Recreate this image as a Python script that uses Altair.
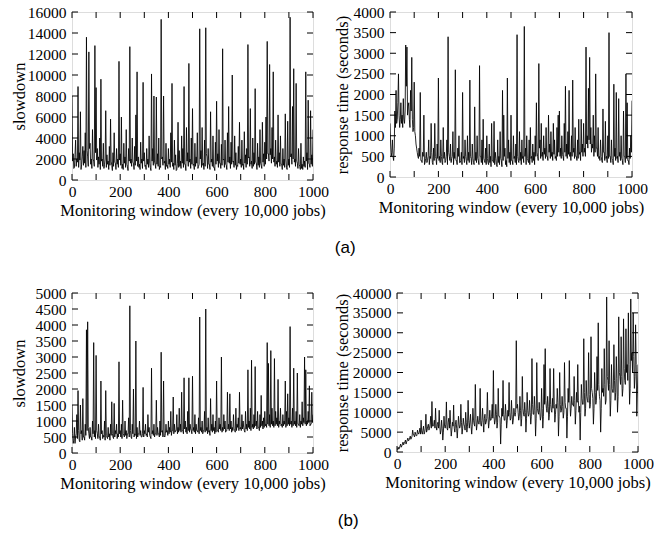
import altair as alt
import pandas as pd

# monitoring windows sampled (main samples and the samples in between)
window = list(range(0, 1001, 5))
window_mid = [2.5 + 5 * i for i in range(200)]

slowdown_a = [
    8000, 2500, 1200, 3800, 2000, 8900, 2600, 6500, 1500, 3200,
    2800, 4500, 13600, 2200, 12200, 3500, 2000, 4800, 1800, 12800,
    8800, 3000, 2200, 4000, 9600, 2000, 3500, 1500, 6600, 2400,
    1800, 3200, 5800, 1400, 2600, 4500, 1600, 3000, 2000, 11300,
    2500, 6000, 1500, 3500, 2200, 4800, 1300, 3000, 12700, 2000,
    4000, 1600, 3200, 6200, 10300, 2200, 1500, 3600, 2000, 9300,
    2600, 1400, 3000, 2000, 4200, 1200, 10100, 3000, 8000, 1500,
    7900, 2500, 4000, 1300, 15300, 2200, 8000, 1800, 3500, 1400,
    3000, 2000, 4500, 9200, 1600, 3800, 2400, 1000, 5500, 2800,
    1800, 4200, 3000, 8900, 1500, 5000, 2600, 11100, 2000, 4000,
    6800, 1500, 3500, 2200, 4500, 1300, 14400, 2800, 5000, 1600,
    3800, 14500, 2200, 3000, 1500, 6500, 2000, 4200, 1200, 3600,
    7500, 2500, 4800, 1600, 3400, 12500, 2000, 3800, 1400, 4500,
    7000, 2200, 3600, 10000, 1800, 4200, 2600, 1400, 3200, 5500,
    2000, 3800, 1500, 4600, 2400, 3000, 12900, 2200, 6800, 1800,
    4000, 2600, 8700, 1600, 3500, 2200, 4800, 1400, 5500, 2500,
    3600, 6000, 13200, 2500, 11000, 3000, 5000, 10300, 2200, 3800,
    1800, 6200, 2600, 4200, 1500, 3000, 2000, 6300, 1200, 5600,
    2000, 15500, 2500, 7000, 10600, 2000, 9200, 1600, 3000, 1300,
    3500, 1500, 2200, 1800, 10300, 2600, 7600, 1500, 6600, 2400,
    4800,
]
slowdown_a_mid = [
    1800, 1100, 2400, 1300, 1700, 1200, 1900, 1000, 2200, 1400,
    1600, 1200, 2800, 1300, 3000, 1500, 1100, 2000, 1300, 2600,
    1900, 1200, 1500, 1000, 1800, 1300, 1100, 2000, 1200, 1500,
    1000, 1400, 1800, 900, 1300, 1700, 1000, 1500, 1200, 1900,
    1400, 1100, 1000, 1600, 1200, 1500, 900, 1800, 1600, 1300,
    1700, 1000, 1400, 1800, 1300, 1200, 1000, 1600, 1100, 1800,
    1300, 1000, 1500, 1200, 1600, 900, 1800, 1400, 1700, 1100,
    1500, 1300, 1000, 1200, 2000, 1400, 1600, 1000, 1300, 1100,
    1500, 1200, 1700, 1300, 1000, 1400, 900, 1600, 1200, 1300,
    1100, 1600, 1200, 1500, 900, 1800, 1300, 1700, 1100, 1500,
    1400, 1000, 1300, 1600, 1100, 1500, 2000, 1200, 1400, 1000,
    1300, 2500, 1100, 1500, 1000, 1700, 1300, 1200, 900, 1500,
    1800, 1200, 1600, 1100, 1400, 1900, 1200, 1500, 1000, 1700,
    1600, 1100, 1500, 1700, 1200, 1400, 1000, 1300, 1600, 1500,
    1200, 1400, 1000, 1600, 1200, 1500, 2100, 1300, 1500, 1100,
    1300, 1500, 1700, 1000, 1400, 1200, 1600, 1100, 1700, 1300,
    1500, 2000, 2500, 1800, 2400, 1600, 2000, 1700, 1300, 1500,
    1200, 1700, 1300, 1500, 1000, 1400, 1200, 1900, 1000, 1400,
    1200, 2200, 1500, 2000, 1700, 1300, 1800, 1100, 1500, 1000,
    1100, 1000, 1300, 1200, 1800, 1000, 1600, 1200, 1500, 1300,
]

response_a = [
    1300, 500, 900, 400, 1600, 2100, 1400, 2500, 1200, 1800,
    1500, 1900, 1300, 3200, 3150, 1700, 1400, 2100, 2900, 1100,
    2300, 1000, 700, 500, 700, 2050, 400, 600, 1500, 350,
    600, 400, 900, 500, 1300, 350, 700, 1300, 450, 800,
    2400, 500, 900, 350, 1200, 600, 400, 900, 3400, 500,
    800, 450, 1100, 600, 2600, 400, 700, 1000, 350, 600,
    2050, 500, 900, 400, 1000, 600, 2350, 450, 800, 350,
    1700, 600, 1000, 400, 2700, 500, 900, 1400, 400, 700,
    1000, 350, 800, 500, 1300, 400, 1350, 600, 300, 900,
    500, 1100, 400, 2100, 1500, 700, 400, 2400, 900, 600,
    1500, 400, 1000, 500, 800, 3450, 400, 1100, 600, 900,
    500, 3650, 700, 1000, 400, 900, 1200, 500, 800, 600,
    1000, 1800, 500, 2750, 900, 1300, 600, 1000, 700, 1200,
    500, 1500, 800, 1100, 600, 1300, 900, 500, 1200, 1500,
    1600, 700, 1000, 500, 1300, 2200, 800, 1100, 2100, 600,
    1000, 2350, 700, 1200, 500, 900, 1400, 600, 1400, 800,
    1300, 700, 3150, 1000, 2150, 2900, 1200, 800, 1500, 1000,
    2500, 700, 1200, 500, 900, 400, 1650, 600, 1350, 500,
    1000, 3500, 500, 900, 400, 2250, 700, 2050, 500, 1900,
    600, 1000, 400, 1600, 500, 2500, 1800, 400, 700, 1000,
    1850,
]
response_a_mid = [
    800, 600, 500, 700, 1200, 1300, 1800, 1500, 1400, 1300,
    1200, 1400, 1600, 2200, 1500, 1800, 1200, 1600, 1400, 1200,
    1100, 800, 600, 450, 500, 400, 350, 500, 300, 450,
    350, 500, 300, 450, 600, 300, 400, 500, 300, 450,
    400, 350, 500, 300, 450, 350, 500, 300, 600, 400,
    350, 500, 300, 450, 400, 300, 500, 350, 400, 300,
    450, 350, 500, 300, 400, 350, 500, 300, 450, 300,
    400, 350, 450, 300, 500, 350, 300, 450, 350, 300,
    450, 300, 350, 250, 400, 350, 300, 450, 250, 350,
    300, 450, 250, 400, 500, 300, 250, 450, 350, 300,
    400, 300, 450, 350, 300, 500, 350, 400, 300, 450,
    350, 500, 300, 450, 350, 300, 450, 350, 400, 300,
    500, 600, 400, 700, 450, 500, 400, 550, 450, 500,
    400, 600, 450, 500, 400, 550, 450, 400, 500, 600,
    500, 450, 550, 400, 600, 500, 450, 550, 500, 400,
    500, 600, 450, 500, 400, 450, 550, 400, 600, 500,
    600, 500, 800, 700, 900, 800, 600, 700, 500, 600,
    700, 500, 450, 400, 500, 350, 600, 400, 450, 350,
    450, 500, 350, 450, 300, 500, 400, 450, 350, 500,
    400, 450, 300, 500, 350, 450, 400, 300, 450, 600,
]

slowdown_b = [
    1500, 300, 800, 500, 1200, 1950, 400, 1500, 700, 1700,
    500, 900, 3850, 4100, 600, 800, 500, 1000, 3450, 700,
    3050, 600, 900, 500, 2250, 700, 550, 1000, 1950, 500,
    800, 600, 900, 1600, 500, 1550, 700, 900, 600, 2850,
    700, 900, 1650, 550, 1000, 700, 600, 1100, 4600, 500,
    900, 2000, 600, 3500, 800, 600, 1000, 700, 500, 2050,
    700, 900, 600, 1200, 800, 500, 2650, 700, 900, 600,
    1650, 800, 600, 1000, 3150, 700, 2250, 500, 900, 700,
    1000, 800, 1300, 700, 1750, 900, 700, 1200, 800, 1400,
    900, 1900, 700, 2350, 1000, 800, 1300, 2350, 900, 700,
    2400, 800, 1200, 900, 700, 1100, 4250, 800, 1000, 700,
    1300, 4500, 800, 1100, 700, 1700, 900, 1200, 800, 1000,
    2250, 700, 1100, 900, 3000, 800, 1200, 1000, 700, 1900,
    900, 1850, 1000, 800, 1200, 700, 1400, 900, 1100, 1900,
    800, 1200, 1000, 700, 1300, 900, 2600, 1000, 1400, 2900,
    900, 1200, 2700, 1000, 1300, 800, 1200, 1800, 1000, 1100,
    1300, 900, 3450, 2800, 1200, 3200, 1400, 1000, 2950, 1300,
    1100, 2300, 1000, 1400, 900, 1200, 1000, 2250, 1300, 1850,
    1100, 3950, 1000, 1400, 2650, 1000, 1300, 2500, 900, 1200,
    1000, 1600, 1100, 3000, 2600, 1000, 1300, 2100, 900, 1900,
    1200,
]
slowdown_b_mid = [
    600, 400, 300, 600, 450, 700, 350, 600, 400, 500,
    400, 550, 700, 800, 450, 500, 400, 600, 500, 450,
    700, 450, 500, 400, 600, 450, 500, 400, 550, 450,
    500, 400, 550, 600, 450, 500, 600, 450, 500, 600,
    500, 450, 600, 500, 550, 450, 600, 500, 700, 450,
    600, 500, 550, 450, 500, 600, 550, 500, 600, 500,
    600, 550, 500, 650, 550, 450, 600, 550, 500, 600,
    550, 600, 500, 550, 650, 500, 550, 600, 650, 550,
    600, 650, 550, 700, 600, 650, 700, 600, 650, 700,
    650, 700, 600, 750, 650, 600, 700, 650, 750, 600,
    700, 650, 600, 700, 650, 600, 700, 650, 600, 700,
    650, 700, 600, 650, 550, 700, 650, 700, 600, 650,
    700, 650, 750, 700, 650, 700, 750, 650, 700, 750,
    700, 750, 650, 700, 750, 650, 700, 800, 700, 750,
    700, 750, 800, 650, 750, 700, 800, 750, 700, 800,
    750, 800, 850, 750, 800, 700, 800, 850, 750, 800,
    850, 800, 900, 850, 800, 900, 850, 800, 850, 900,
    850, 800, 900, 850, 800, 850, 900, 800, 850, 900,
    850, 900, 800, 850, 900, 850, 800, 900, 850, 800,
    900, 850, 950, 900, 850, 900, 950, 850, 900, 950,
]

response_b = [
    500, 1200, 1000, 2000, 1500, 2500, 2200, 3000, 2500, 3500,
    3000, 4000, 3500, 5500, 4200, 5000, 4000, 5500, 4500, 6000,
    8000, 4500, 6500, 5000, 9500, 5500, 7000, 6000, 9000, 12700,
    6500, 8000, 11000, 5500, 7500, 10500, 4500, 8000, 3000, 9000,
    6000, 12600, 5500, 8500, 10500, 4000, 7500, 11800, 5000, 8000,
    3500, 9000, 6000, 12000, 4500, 8500, 6500, 10000, 5000, 13000,
    6000, 9500, 4500, 11000, 7000, 17000, 5500, 9000, 7000, 16000,
    6500, 11000, 5000, 9500, 7500, 15000, 6000, 10500, 8000, 12000,
    20500, 7000, 12000, 6000, 16000, 9000, 2000, 11000, 18000, 8000,
    12000, 6000, 10500, 17500, 8000, 13000, 7000, 11000, 9000, 28000,
    12000, 8000, 14000, 6500, 19000, 9500, 12500, 5000, 15000, 9000,
    13000, 7000, 23500, 9500, 14000, 4000, 22500, 10000, 12500, 8000,
    16000, 6000, 22000, 26000, 11000, 14000, 8000, 21000, 10500, 13500,
    21000, 7500, 12000, 16000, 4000, 20000, 10000, 14000, 8500, 22500,
    11000, 3500, 16000, 23000, 9000, 14000, 12000, 19000, 7000, 15000,
    22000, 10000, 3000, 17000, 12000, 28500, 9000, 18000, 13000, 25000,
    11000, 29000, 15000, 7000, 20000, 12000, 24000, 32500, 14000, 5000,
    21000, 16000, 26000, 12000, 39000, 18000, 28000, 9000, 22000, 15000,
    27000, 13000, 24000, 10000, 34000, 19000, 29000, 14000, 33500, 18000,
    31000, 22000, 35000, 12000, 38500, 25000, 35000, 16000, 32000, 9000,
    22000,
]
response_b_mid = [
    800, 700, 1500, 1200, 2000, 1800, 2500, 2000, 3000, 2800,
    3500, 3200, 4000, 4500, 3800, 4500, 4200, 4800, 5000, 4500,
    5000, 5500, 4500, 6000, 5000, 6500, 5500, 7000, 6000, 6500,
    7000, 6000, 6500, 7000, 6000, 6500, 5500, 6000, 5000, 6500,
    7000, 6000, 7500, 6000, 7000, 5500, 6500, 6000, 7000, 6000,
    6000, 7000, 6500, 7500, 6000, 7000, 5500, 7500, 6500, 8000,
    7500, 6500, 7000, 8000, 6500, 8500, 7000, 7500, 8000, 7000,
    8000, 7500, 8500, 7000, 8500, 9000, 7500, 8000, 9000, 8500,
    9000, 8000, 9500, 7500, 9000, 8500, 7000, 9000, 9500, 8000,
    9500, 8000, 9000, 10000, 8500, 9500, 8000, 9500, 10000, 11000,
    10000, 9000, 10500, 8500, 11000, 9000, 10000, 8500, 10500, 9500,
    10000, 9000, 12000, 9500, 10500, 8500, 11000, 9500, 10000, 9000,
    11000, 9000, 12000, 13000, 10000, 11500, 9500, 12000, 10000, 11000,
    12000, 9500, 11000, 12500, 9000, 12000, 10500, 11500, 10000, 12500,
    11000, 9000, 12500, 13000, 11000, 12000, 11500, 13000, 10500, 12500,
    13000, 11500, 10000, 13500, 12000, 15000, 11000, 14000, 12500, 14500,
    12000, 16000, 13500, 11000, 15000, 13000, 15500, 17000, 13000, 11000,
    15000, 14000, 17000, 13000, 19000, 15500, 17000, 13000, 16000, 15000,
    18000, 15000, 18500, 14000, 20000, 17000, 19000, 16000, 21000, 17000,
    20000, 18000, 22000, 16000, 23000, 20000, 24000, 19000, 22000, 15000,
]

x_ticks = list(range(0, 1001, 100))
x_labels = list(range(0, 1001, 200))
slowdown_a_ticks = list(range(0, 16001, 2000))
response_a_ticks = list(range(0, 4001, 500))
slowdown_b_ticks = list(range(0, 5001, 500))
response_b_ticks = list(range(0, 40001, 5000))

XTITLE = "Monitoring window (every 10,000 jobs)"
SERIF = "Liberation Serif"
TICK = 6


def panel(values, mids, ticks, ytitle, w, h, title_x):
    df = pd.DataFrame({"x": window + window_mid, "y": values + mids}).sort_values("x")
    xs = alt.Scale(domain=[0, 1000], nice=False, zero=False)
    ys = alt.Scale(domain=[0, ticks[-1]], nice=False)
    common = dict(labelFont=SERIF, labelFontSize=15.5, labelColor="black",
                  titleFont=SERIF, titleFontSize=16.5, titleFontWeight="normal",
                  titleColor="black", ticks=False, domain=False, grid=False,
                  labelFlush=False, labelOverlap=False, format="d")
    xaxis = alt.Axis(values=x_labels, labelPadding=4, titlePadding=3, **common)
    yaxis = alt.Axis(values=ticks, labelPadding=6, titleX=title_x, **common)
    xenc = alt.X("x:Q", scale=xs, title=XTITLE, axis=xaxis)
    yenc = alt.Y("y:Q", scale=ys, title=ytitle, axis=yaxis)
    line = alt.Chart(df).mark_line(color="black", strokeWidth=0.85, clip=True).encode(
        x=xenc, y=yenc)
    xt = pd.DataFrame({"x": x_ticks})
    yt = pd.DataFrame({"y": ticks})
    rule = dict(color="black", strokeWidth=1)
    top = alt.Chart(xt).mark_rule(**rule).encode(x=xenc, y=alt.value(0), y2=alt.value(TICK))
    bot = alt.Chart(xt).mark_rule(**rule).encode(x=xenc, y=alt.value(h), y2=alt.value(h - TICK))
    left = alt.Chart(yt).mark_rule(**rule).encode(y=yenc, x=alt.value(0), x2=alt.value(TICK))
    right = alt.Chart(yt).mark_rule(**rule).encode(y=yenc, x=alt.value(w), x2=alt.value(w - TICK))
    return alt.layer(line, top, bot, left, right).properties(width=w, height=h)


def caption(text):
    return alt.TitleParams(text, orient="bottom", anchor="middle", font="Liberation Sans",
                           fontSize=17, fontWeight="normal", color="black", offset=20, dx=16)


p1 = panel(slowdown_a, slowdown_a_mid, slowdown_a_ticks, "slowdown", 241, 168, -45)
p2 = panel(response_a, response_a_mid, response_a_ticks, "response time (seconds)", 242, 165, -40)
p3 = panel(slowdown_b, slowdown_b_mid, slowdown_b_ticks, "slowdown", 241, 160, -45)
p4 = panel(response_b, response_b_mid, response_b_ticks, "response time (seconds)", 241, 159, -47)

row1 = alt.hconcat(p1, p2, spacing=4).properties(title=caption("(a)"))
row2 = alt.hconcat(p3, p4, spacing=4).properties(title=caption("(b)"))

chart = alt.vconcat(row1, row2, spacing=29).properties(
    padding={"left": 10, "top": 4, "right": 0, "bottom": 0}
).configure_view(stroke="black", strokeWidth=1).configure(background="white")

chart.save("out.html", embed_options={"renderer": "svg", "actions": False})
